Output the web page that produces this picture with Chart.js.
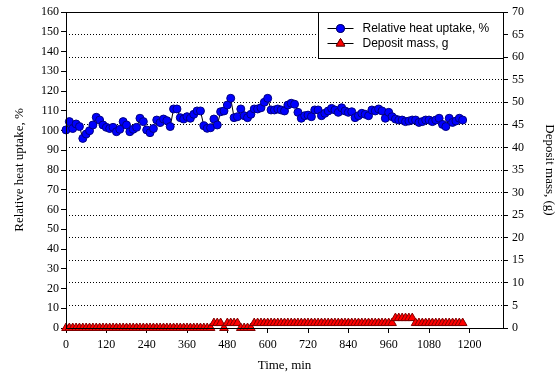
<!DOCTYPE html>
<html>
<head>
<meta charset="utf-8">
<script src="https://cdn.jsdelivr.net/npm/chart.js@4/dist/chart.umd.min.js"></script>
<style>
  html, body { margin: 0; padding: 0; background: #fff; }
  #wrap { width: 558px; height: 383px; }
</style>
</head>
<body>
<div id="wrap"><canvas id="chart" width="558" height="383"></canvas></div>
<script>
// --- Data ---
// time in minutes, one sample every 10 min
const times = [
  0, 10, 20, 30, 40, 50, 60, 70, 80, 90,
  100, 110, 120, 130, 140, 150, 160, 170, 180, 190,
  200, 210, 220, 230, 240, 250, 260, 270, 280, 290,
  300, 310, 320, 330, 340, 350, 360, 370, 380, 390,
  400, 410, 420, 430, 440, 450, 460, 470, 480, 490,
  500, 510, 520, 530, 540, 550, 560, 570, 580, 590,
  600, 610, 620, 630, 640, 650, 660, 670, 680, 690,
  700, 710, 720, 730, 740, 750, 760, 770, 780, 790,
  800, 810, 820, 830, 840, 850, 860, 870, 880, 890,
  900, 910, 920, 930, 940, 950, 960, 970, 980, 990,
  1000, 1010, 1020, 1030, 1040, 1050, 1060, 1070, 1080, 1090,
  1100, 1110, 1120, 1130, 1140, 1150, 1160, 1170, 1180
];

// relative heat uptake, % (left axis)
const heatUptake = [
  100.3, 104.5, 101.0, 103.3, 102.0, 96.0, 98.2, 99.9, 102.8, 106.7,
  105.3, 102.8, 101.6, 101.0, 101.6, 99.4, 100.6, 104.5, 102.8, 99.4,
  100.6, 101.6, 106.2, 104.5, 100.3, 98.9, 101.0, 105.3, 104.0, 105.8,
  105.0, 102.0, 110.9, 110.9, 106.5, 105.8, 107.0, 106.2, 108.2, 109.9,
  109.9, 102.4, 101.1, 101.4, 105.8, 102.8, 109.5, 109.9, 112.9, 116.3,
  106.5, 107.0, 110.9, 107.5, 106.5, 108.2, 110.9, 110.9, 111.5, 114.3,
  116.3, 110.4, 110.4, 110.9, 110.4, 109.9, 112.9, 113.8, 113.3, 109.2,
  106.2, 107.5, 107.8, 107.0, 110.4, 110.4, 107.5, 108.7, 109.9, 111.2,
  110.4, 109.2, 111.5, 109.9, 109.2, 109.5, 106.5, 107.5, 108.7, 108.2,
  107.5, 110.4, 109.9, 110.9, 109.9, 106.2, 109.2, 107.0, 105.8, 105.3,
  105.3, 104.5, 104.8, 105.3, 105.3, 104.1, 104.5, 105.3, 105.3, 104.5,
  105.3, 106.2, 103.1, 102.0, 106.2, 104.1, 104.8, 106.2, 105.3
];

// deposit mass, g (right axis)
const depositMass = [
  0, 0, 0, 0, 0, 0, 0, 0, 0, 0,
  0, 0, 0, 0, 0, 0, 0, 0, 0, 0,
  0, 0, 0, 0, 0, 0, 0, 0, 0, 0,
  0, 0, 0, 0, 0, 0, 0, 0, 0, 0,
  0, 0, 0, 0, 1.1, 1.1, 1.1, 0, 1.1, 1.1,
  1.1, 1.1, 0, 0, 0, 0, 1.1, 1.1, 1.1, 1.1,
  1.1, 1.1, 1.1, 1.1, 1.1, 1.1, 1.1, 1.1, 1.1, 1.1,
  1.1, 1.1, 1.1, 1.1, 1.1, 1.1, 1.1, 1.1, 1.1, 1.1,
  1.1, 1.1, 1.1, 1.1, 1.1, 1.1, 1.1, 1.1, 1.1, 1.1,
  1.1, 1.1, 1.1, 1.1, 1.1, 1.1, 1.1, 1.1, 2.2, 2.2,
  2.2, 2.2, 2.2, 2.2, 1.1, 1.1, 1.1, 1.1, 1.1, 1.1,
  1.1, 1.1, 1.1, 1.1, 1.1, 1.1, 1.1, 1.1, 1.1
];

const seriesNames = ['Relative heat uptake, %', 'Deposit mass, g'];

const serif = "'Liberation Serif', 'Times New Roman', serif";
const sans = "'Liberation Sans', Arial, sans-serif";

Chart.defaults.font.family = serif;
Chart.defaults.font.size = 12;
Chart.defaults.color = '#000';

// frame around the plot area + legend box drawn inside it (top right)
const framePlugin = {
  id: 'frame',
  afterDraw(chart) {
    const { ctx, chartArea: a } = chart;
    ctx.save();
    ctx.strokeStyle = '#000';
    ctx.lineWidth = 1;
    ctx.strokeRect(Math.round(a.left) + 0.5, Math.round(a.top) + 0.5,
      Math.round(a.right - a.left), Math.round(a.bottom - a.top));

    // legend
    const w = 185, h = 46;
    const lx = Math.round(a.right) - w + 0.5, ly = Math.round(a.top) + 0.5;
    ctx.fillStyle = '#fff';
    ctx.fillRect(lx, ly, w, h);
    ctx.strokeRect(lx, ly, w, h);
    chart.data.datasets.forEach((ds, i) => {
      const y = ly + 16 + i * 15;
      ctx.strokeStyle = '#000';
      ctx.beginPath();
      ctx.moveTo(lx + 9, y);
      ctx.lineTo(lx + 35, y);
      ctx.stroke();
      Chart.helpers.drawPoint(ctx, {
        pointStyle: ds.pointStyle,
        radius: ds.pointRadius,
        borderWidth: 1
      }, lx + 22, y);
      ctx.fillStyle = ds.pointBackgroundColor;
      ctx.strokeStyle = ds.pointBorderColor;
      ctx.fill();
      ctx.stroke();
      ctx.fillStyle = '#000';
      ctx.font = '12px ' + sans;
      ctx.textBaseline = 'middle';
      ctx.textAlign = 'left';
      ctx.fillText(ds.label, lx + 44, y);
    });
    ctx.restore();
  }
};

const plain = v => String(v);

new Chart(document.getElementById('chart'), {
  type: 'line',
  data: {
    datasets: [
      {
        label: seriesNames[0],
        data: times.map((t, i) => ({ x: t, y: heatUptake[i] })),
        yAxisID: 'y',
        borderColor: '#000',
        borderWidth: 1,
        pointStyle: 'circle',
        pointRadius: 4,
        pointBackgroundColor: '#0000ff',
        pointBorderColor: '#000080',
        pointBorderWidth: 1,
        tension: 0,
        clip: false
      },
      {
        label: seriesNames[1],
        data: times.map((t, i) => ({ x: t, y: depositMass[i] })),
        yAxisID: 'y2',
        borderColor: '#000',
        borderWidth: 1,
        pointStyle: 'triangle',
        pointRadius: 5,
        pointBackgroundColor: '#ff0000',
        pointBorderColor: '#800000',
        pointBorderWidth: 1,
        tension: 0,
        clip: false
      }
    ]
  },
  options: {
    responsive: false,
    animation: false,
    layout: { padding: { top: 12, left: 0, right: 0, bottom: 0 } },
    plugins: {
      legend: { display: false },
      tooltip: { enabled: false }
    },
    scales: {
      x: {
        type: 'linear',
        min: 0,
        max: 1300,
        afterFit(s) { s.height = 55; },
        ticks: { stepSize: 120, includeBounds: false, color: '#000', font: { family: serif, size: 12 }, padding: 5, maxRotation: 0, callback: plain },
        grid: { drawOnChartArea: false, drawTicks: true, tickLength: 5, color: '#000' },
        border: { color: '#000' },
        title: { display: true, text: 'Time, min', color: '#000', font: { family: serif, size: 13 }, padding: { top: 0, bottom: 10 } }
      },
      y: {
        position: 'left',
        min: 0,
        max: 160,
        afterFit(s) { s.width = 66; },
        ticks: { stepSize: 10, color: '#000', font: { family: serif, size: 12 }, padding: 2, callback: plain },
        grid: { drawOnChartArea: false, drawTicks: true, tickLength: 5, color: '#000' },
        border: { color: '#000' },
        title: { display: true, text: 'Relative heat uptake, %', color: '#000', font: { family: serif, size: 13 }, padding: { top: 12, bottom: 0 } }
      },
      y2: {
        position: 'right',
        min: 0,
        max: 70,
        afterFit(s) { s.width = 55; },
        ticks: { stepSize: 5, color: '#000', font: { family: serif, size: 12 }, padding: 4, callback: plain },
        grid: {
          drawOnChartArea: true,
          drawTicks: true,
          tickLength: 5,
          color: c => (c.tick && (c.tick.value === 0 || c.tick.value === 70)) ? 'rgba(0,0,0,0)' : '#000',
          tickColor: '#000',
          tickBorderDash: []
        },
        border: { color: '#000', dash: [1, 2] },
        title: { display: true, text: 'Deposit mass, (g)', color: '#000', font: { family: serif, size: 13 }, padding: { top: 1, bottom: 0 } }
      }
    }
  },
  plugins: [framePlugin]
});
</script>
</body>
</html>
